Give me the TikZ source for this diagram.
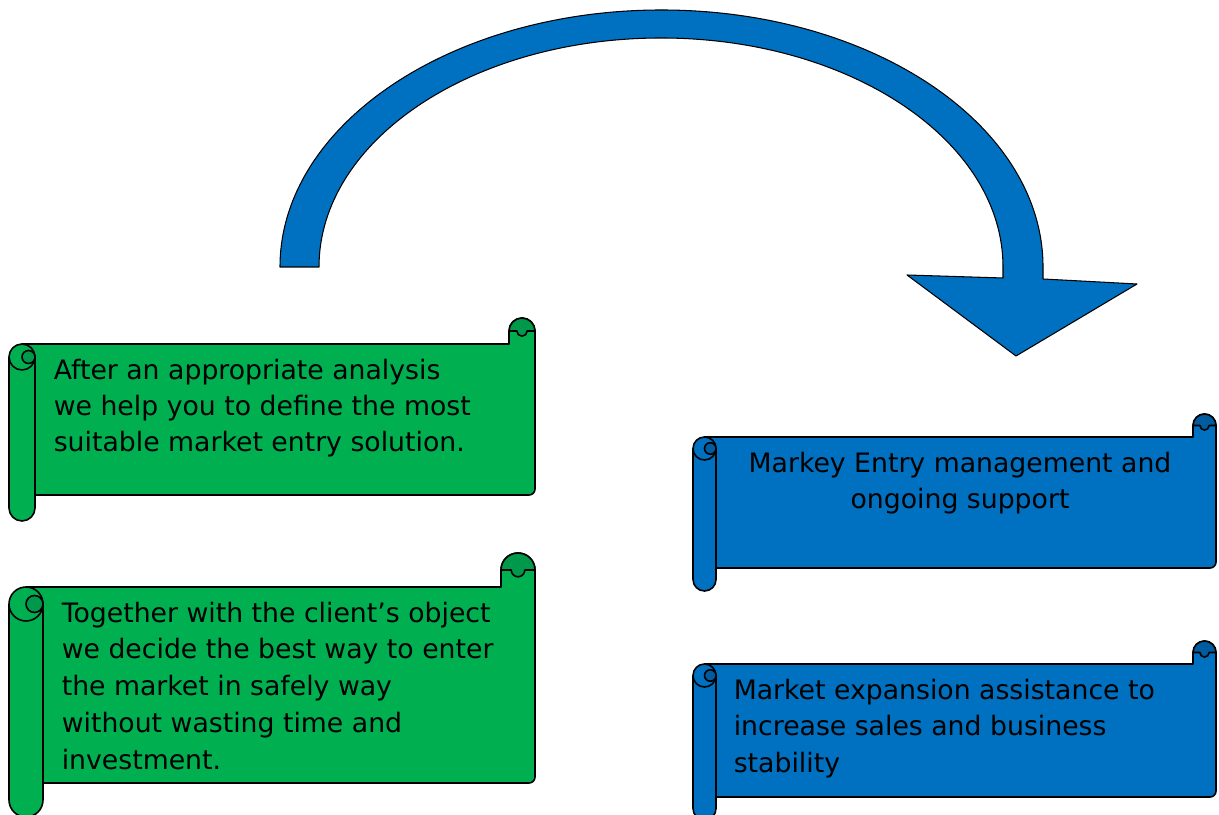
\documentclass[tikz,border=0pt]{standalone}
\usepackage{fontspec}
\setmainfont{DejaVu Sans}
\usepackage{xcolor}
\usepackage{tikz}

\definecolor{scrollgreen}{HTML}{00B050}
\definecolor{curlgreen}{HTML}{00984A}
\definecolor{scrollblue}{HTML}{0070C0}
\definecolor{curlblue}{HTML}{005C9E}

% #1 left, #2 top, #3 right, #4 bottom, #5 roll size, #6 colour, #7 curl colour
\newcommand{\scrollbox}[7]{%
  \pgfmathsetmacro\sr{#5/2}
  \filldraw[fill=#6] ({#1+\sr},{#2-#5}) -- ({#3-#5},{#2-#5}) -- ({#3-#5},{#2-\sr})
    arc[start angle=180,end angle=0,radius=\sr] -- ({#3},{#4+#5+6})
    arc[start angle=0,end angle=-90,radius=6] -- ({#1+\sr},{#4+#5}) -- cycle;
  \filldraw[fill=#7] ({#3-#5},{#2-\sr}) arc[start angle=180,end angle=0,radius=\sr]
    -- ({#3-\sr+\sr/2.5},{#2-\sr}) arc[start angle=0,end angle=-180,radius=\sr/2.5] -- cycle;
  \filldraw[fill=#6] (#1,{#2-#5-\sr}) -- (#1,{#4+\sr})
    arc[start angle=180,end angle=360,radius=\sr] -- ({#1+#5},{#2-#5-\sr})
    arc[start angle=0,end angle=180,radius=\sr] -- cycle;
  \draw (#1,{#2-#5-\sr}) arc[start angle=180,end angle=360,radius=\sr];
  \filldraw[fill=#7] ({#1+1.5*\sr},{#2-#5-\sr}) circle[radius=\sr/2];
}

\begin{document}
\begin{tikzpicture}[x=0.02cm,y=0.02cm,line width=0.9pt,line join=round,
    scrolltext/.style={inner sep=0pt,font=\fontsize{15.2}{21}\selectfont}]
  \useasboundingbox (0,0) rectangle (1219,814);
  \clip (0,0) rectangle (1219,814);

  % big curved arrow
  \filldraw[fill=scrollblue,line width=0.6pt] (280,547)
    arc[start angle=180,end angle=0,x radius=381.5,y radius=257]
    -- (1043,535) -- (1137,530) -- (1016,458) -- (907,539) -- (1003,536)
    -- (1003,547) arc[start angle=0,end angle=180,x radius=342,y radius=229] -- cycle;

  % scrolls
  \scrollbox{9}{496}{535}{293}{26}{scrollgreen}{curlgreen}
  \scrollbox{9}{261}{535}{-3}{34}{scrollgreen}{curlgreen}
  \scrollbox{693}{400}{1216}{223}{23}{scrollblue}{curlblue}
  \scrollbox{693}{173}{1216}{-6}{23}{scrollblue}{curlblue}

  \node[scrolltext,anchor=north west,align=left,
    font=\fontsize{15.2}{20.5}\selectfont] (analysis) at (53,456)
    {After an appropriate analysis\\we help you to define the most\\suitable market entry solution.};
  \node[scrolltext,anchor=north west,align=left] (together) at (61,213)
    {Together with the client’s object\\we decide the best way to enter\\the market in safely way\\without wasting time and\\investment.};
  \node[scrolltext,anchor=north,align=center] (entry) at (960,363)
    {Markey Entry management and\\ongoing support};
  \node[scrolltext,anchor=north west,align=left] (expansion) at (733,136)
    {Market expansion assistance to\\increase sales and business\\stability};
\end{tikzpicture}
\end{document}
